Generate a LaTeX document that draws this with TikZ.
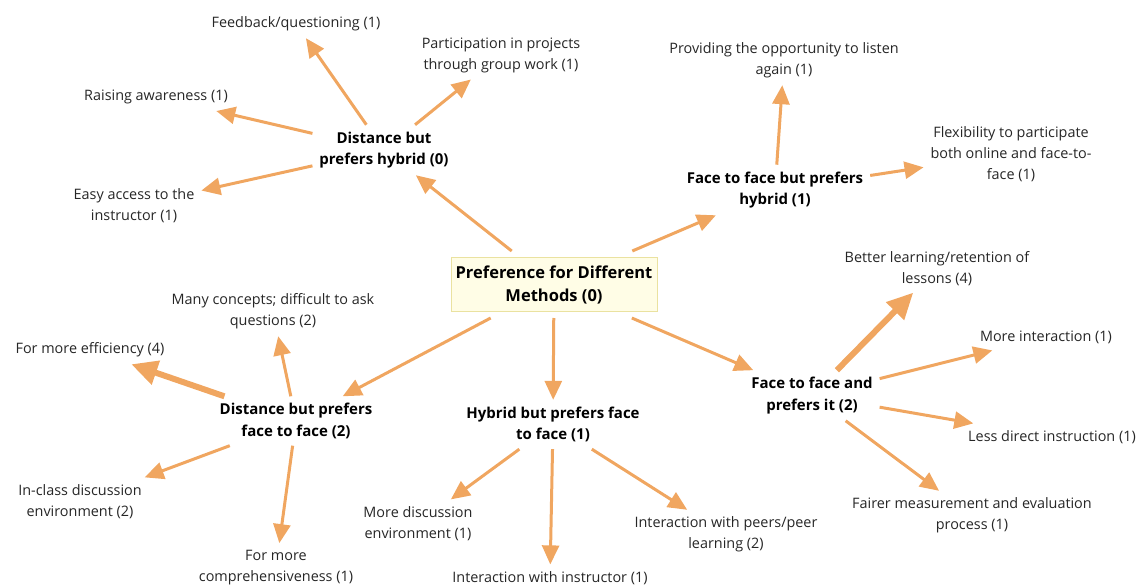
\documentclass[tikz,border=0pt]{standalone}
\usepackage{fontspec}
\setmainfont{Open Sans}
\usetikzlibrary{arrows.meta}
\definecolor{arr}{RGB}{240,166,96}
\definecolor{boxfill}{RGB}{255,253,230}
\definecolor{boxdraw}{RGB}{234,226,160}
\begin{document}
\begin{tikzpicture}[x=1pt,y=-1pt,
 leaf/.style={font=\fontsize{14.4}{21}\selectfont, text=black!85, align=center, inner sep=1pt, outer sep=6pt},
 hub/.style={leaf, font=\fontsize{15}{21.5}\selectfont\bfseries, text=black},
 centre/.style={leaf, font=\fontsize{16.5}{23}\selectfont\bfseries, text=black, draw=boxdraw, fill=boxfill, line width=1pt, minimum width=206pt, minimum height=53pt, outer sep=7pt},
 link/.style={draw=arr, line width=3pt, -{Triangle[length=19pt,width=17pt]}},
 biglink/.style={draw=arr, line width=6pt, -{Triangle[length=26pt,width=24pt]}}]
\useasboundingbox (0,0) rectangle (1146,588);
% central and hub nodes
\node[centre] (c) at (554,284.5) {Preference for Different\\Methods (0)};
\node[hub] (dbph) at (384,150) {Distance but\\prefers hybrid (0)};
\node[hub] (ffbph) at (775,190) {Face to face but prefers\\hybrid (1)};
\node[hub] (dbpff) at (296,421) {Distance but prefers\\face to face (2)};
\node[hub] (hbpff) at (553,424.5) {Hybrid but prefers face\\to face (1)};
\node[hub] (ffap) at (812,395.5) {Face to face and\\prefers it (2)};
% leaves
\node[leaf] (fb) at (296,24) {Feedback/questioning (1)};
\node[leaf] (pp) at (501,55) {Participation in projects\\through group work (1)};
\node[leaf] (ra) at (156,97) {Raising awareness (1)};
\node[leaf] (ea) at (134,205.5) {Easy access to the\\instructor (1)};
\node[leaf] (pr) at (784,60.5) {Providing the opportunity to listen\\again (1)};
\node[leaf] (fl) at (1011,154) {Flexibility to participate\\both online and face-to-\\face (1)};
\node[leaf] (bl) at (937,268.5) {Better learning/retention of\\lessons (4)};
\node[leaf] (mi) at (1046,337) {More interaction (1)};
\node[leaf] (ld) at (1052,437) {Less direct instruction (1)};
\node[leaf] (fm) at (972,515.5) {Fairer measurement and evaluation\\process (1)};
\node[leaf] (ip) at (726,534.5) {Interaction with peers/peer\\learning (2)};
\node[leaf] (ii) at (550,578) {Interaction with instructor (1)};
\node[leaf] (md) at (418,523.5) {More discussion\\environment (1)};
\node[leaf] (fc) at (276,567.5) {For more\\comprehensiveness (1)};
\node[leaf] (ic) at (80,501.5) {In-class discussion\\environment (2)};
\node[leaf] (ef) at (90,350) {For more efficiency (4)};
\node[leaf] (mc) at (273,311.5) {Many concepts; difficult to ask\\questions (2)};
% connectors
\draw[link] (c) -- (dbph);
\draw[link] (c) -- (ffbph);
\draw[link] (c) -- (dbpff);
\draw[link] (c) -- (hbpff);
\draw[link] (c) -- (ffap);
\draw[link] (dbph) -- (fb);
\draw[link] (dbph) -- (pp);
\draw[link] (dbph) -- (ra);
\draw[link] (dbph) -- (ea);
\draw[link] (ffbph) -- (pr);
\draw[link] (ffbph) -- (fl);
\draw[biglink] (ffap) -- (bl);
\draw[link] (ffap) -- (mi);
\draw[link] (ffap) -- (ld);
\draw[link] (ffap) -- (fm);
\draw[link] (hbpff) -- (ip);
\draw[link] (hbpff) -- (ii);
\draw[link] (hbpff) -- (md);
\draw[link] (dbpff) -- (mc);
\draw[biglink] (dbpff) -- (ef);
\draw[link] (dbpff) -- (ic);
\draw[link] (dbpff) -- (fc);
\end{tikzpicture}
\end{document}
